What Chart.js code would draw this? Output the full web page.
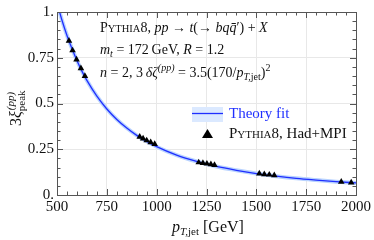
<!DOCTYPE html>
<html>
<head>
<meta charset="utf-8">
<script src="https://cdn.jsdelivr.net/npm/chart.js@4/dist/chart.umd.min.js"></script>
<style>
html,body{margin:0;padding:0;background:#fff;}
#c{display:block;}
</style>
</head>
<body>
<canvas id="c" width="374" height="240"></canvas>
<script>
// ---- data ----
const theoryPt  = [500, 525, 550, 575, 600, 625, 650, 700, 750, 800, 850, 900, 950, 1000, 1100, 1200, 1300, 1400, 1500, 1600, 1700, 1800, 1900, 2000];
const theoryVal = [1.05, 0.955, 0.872, 0.800, 0.735, 0.677, 0.626, 0.540, 0.470, 0.413, 0.366, 0.326, 0.293, 0.264, 0.218, 0.1835, 0.156, 0.135, 0.117, 0.103, 0.091, 0.0815, 0.073, 0.066];
const pythiaPt  = [560, 578, 598, 620, 640, 915, 932, 950, 970, 990, 1211, 1232, 1252, 1272, 1290, 1515, 1540, 1565, 1590, 1926, 1976];
const pythiaVal = [0.842, 0.790, 0.740, 0.692, 0.650, 0.318, 0.308, 0.298, 0.288, 0.278, 0.178, 0.175, 0.171, 0.168, 0.163, 0.117, 0.1135, 0.111, 0.108, 0.072, 0.068];
const xTicks = [500, 750, 1000, 1250, 1500, 1750, 2000];
const yTicks = [0, 0.25, 0.5, 0.75, 1];
const yTickLabels = ["0.", "0.25", "0.5", "0.75", "1."];

const SERIF = '"Liberation Serif", "DejaVu Serif", serif';
const BLUE = '#1f2fff';
const BAND = '#b9d3ff';

const theoryPts = theoryPt.map((x, i) => ({x, y: theoryVal[i]}));
const pythiaPts = pythiaPt.map((x, i) => ({x, y: pythiaVal[i]}));

function drawRich(ctx, x, y, segs) {
  for (const s of segs) {
    ctx.font = s.f;
    ctx.fillStyle = s.c || '#111';
    ctx.fillText(s.t, x + (s.dx || 0), y + (s.dy || 0));
    if (!s.noAdvance) x += ctx.measureText(s.t).width + (s.dx || 0);
  }
  return x;
}

const frameAndText = {
  id: 'frameAndText',
  afterDraw(chart) {
    const ctx = chart.ctx;
    const a = chart.chartArea;
    const xs = chart.scales.x, ys = chart.scales.y;
    ctx.save();
    // frame
    ctx.strokeStyle = '#555';
    ctx.lineWidth = 1;
    ctx.strokeRect(Math.round(a.left) + 0.5, Math.round(a.top) + 0.5, Math.round(a.right - a.left), Math.round(a.bottom - a.top));
    // inward ticks
    ctx.beginPath();
    for (let v = 500; v <= 2000; v += 50) {
      const px = Math.round(xs.getPixelForValue(v)) + 0.5;
      const len = (v % 250 === 0) ? 6 : 3.5;
      ctx.moveTo(px, a.bottom); ctx.lineTo(px, a.bottom - len);
      ctx.moveTo(px, a.top); ctx.lineTo(px, a.top + len);
    }
    for (let k = 0; k <= 20; k++) {
      const v = k * 0.05;
      const py = Math.round(ys.getPixelForValue(v)) + 0.5;
      const len = (k % 5 === 0) ? 6 : 3.5;
      ctx.moveTo(a.left, py); ctx.lineTo(a.left + len, py);
      ctx.moveTo(a.right, py); ctx.lineTo(a.right - len, py);
    }
    ctx.stroke();

    ctx.textBaseline = 'alphabetic';
    ctx.textAlign = 'left';
    const R = '14px ' + SERIF, I = 'italic 14px ' + SERIF, SC = '10.5px ' + SERIF;
    const SUBI = 'italic 10px ' + SERIF, SUB = '10px ' + SERIF;
    // annotation lines
    drawRich(ctx, 100, 32, [
      {t: 'P', f: R}, {t: 'YTHIA', f: SC}, {t: '8, ', f: R}, {t: 'pp', f: I},
      {t: ' \u2192 ', f: R}, {t: 't', f: I}, {t: '(\u2192 ', f: R}, {t: 'bq', f: I},
      {t: 'q\u0304', f: I}, {t: '\u2032', f: R}, {t: ') + ', f: R}, {t: 'X', f: I}
    ]);
    drawRich(ctx, 100, 54, [
      {t: 'm', f: I}, {t: 't', f: SUBI, dy: 3}, {t: ' = 172\u2009GeV, ', f: R},
      {t: 'R', f: I}, {t: ' = 1.2', f: R}
    ]);
    drawRich(ctx, 100, 76.5, [
      {t: 'n', f: I}, {t: ' = 2, 3\u2009', f: R}, {t: '\u03b4\u03b6', f: I},
      {t: '(pp)', f: SUBI, dy: -6}, {t: ' = 3.5(170/', f: R}, {t: 'p', f: I},
      {t: 'T,', f: SUBI, dy: 3}, {t: 'jet', f: SUB, dy: 3}, {t: ')', f: R}, {t: '2', f: SUB, dy: -6}
    ]);

    // legend
    ctx.fillStyle = '#dbe9ff';
    ctx.fillRect(192, 107, 31, 15);
    ctx.strokeStyle = BLUE; ctx.lineWidth = 1.3;
    ctx.beginPath(); ctx.moveTo(192, 113.5); ctx.lineTo(223, 113.5); ctx.stroke();
    drawRich(ctx, 229, 117.5, [{t: 'Theory fit', f: '15px ' + SERIF, c: BLUE}]);
    ctx.fillStyle = '#000';
    ctx.beginPath(); ctx.moveTo(207.5, 129); ctx.lineTo(213, 138); ctx.lineTo(202, 138); ctx.closePath(); ctx.fill();
    drawRich(ctx, 229, 137.5, [
      {t: 'P', f: '15px ' + SERIF}, {t: 'YTHIA', f: '11px ' + SERIF}, {t: '8, Had+MPI', f: '15px ' + SERIF}
    ]);

    // x title
    drawRich(ctx, 172, 232, [
      {t: 'p', f: 'italic 16px ' + SERIF}, {t: 'T,', f: 'italic 11px ' + SERIF, dy: 3},
      {t: 'jet', f: '11px ' + SERIF, dy: 3}, {t: ' [GeV]', f: '16px ' + SERIF}
    ]);
    // y title (rotated)
    ctx.translate(21, 126);
    ctx.rotate(-Math.PI / 2);
    let xx = drawRich(ctx, 0, 0, [{t: '3', f: '16px ' + SERIF}, {t: '\u03be', f: 'italic 16px ' + SERIF}]);
    drawRich(ctx, xx + 1, -7, [{t: '(pp)', f: 'italic 11px ' + SERIF}]);
    drawRich(ctx, xx, 4, [{t: 'peak', f: '11px ' + SERIF}]);
    ctx.restore();
  }
};

new Chart(document.getElementById('c'), {
  type: 'line',
  data: {
    datasets: [
      {type: 'line', data: theoryPts, borderColor: BAND, borderWidth: 4, pointRadius: 0, cubicInterpolationMode: 'monotone', fill: false, clip: 0, order: 3},
      {type: 'line', data: theoryPts, borderColor: BLUE, borderWidth: 1.3, pointRadius: 0, cubicInterpolationMode: 'monotone', fill: false, clip: 0, order: 2},
      {type: 'scatter', data: pythiaPts, pointStyle: 'triangle', pointRadius: 3.8, backgroundColor: '#000', borderColor: '#000', borderWidth: 0, order: 1}
    ]
  },
  options: {
    responsive: false,
    animation: false,
    events: [],
    layout: {padding: {top: 11, right: 17, left: 0, bottom: 0}},
    plugins: {legend: {display: false}, tooltip: {enabled: false}},
    scales: {
      x: {
        type: 'linear', min: 500, max: 2000,
        afterBuildTicks: s => { s.ticks = xTicks.map(v => ({value: v})); },
        afterFit: s => { s.height = 45; },
        grid: {color: '#e8e8e8', drawTicks: false, lineWidth: 1},
        border: {display: false},
        ticks: {font: {family: SERIF, size: 15}, color: '#111', padding: 3, maxRotation: 0, callback: v => String(v)}
      },
      y: {
        type: 'linear', min: 0, max: 1,
        afterBuildTicks: s => { s.ticks = yTicks.map(v => ({value: v})); },
        afterFit: s => { s.width = 57; },
        grid: {color: '#e8e8e8', drawTicks: false, lineWidth: 1},
        border: {display: false},
        ticks: {font: {family: SERIF, size: 15}, color: '#111', padding: 3, callback: (v) => yTickLabels[yTicks.indexOf(v)]}
      }
    }
  },
  plugins: [frameAndText]
});
</script>
</body>
</html>
